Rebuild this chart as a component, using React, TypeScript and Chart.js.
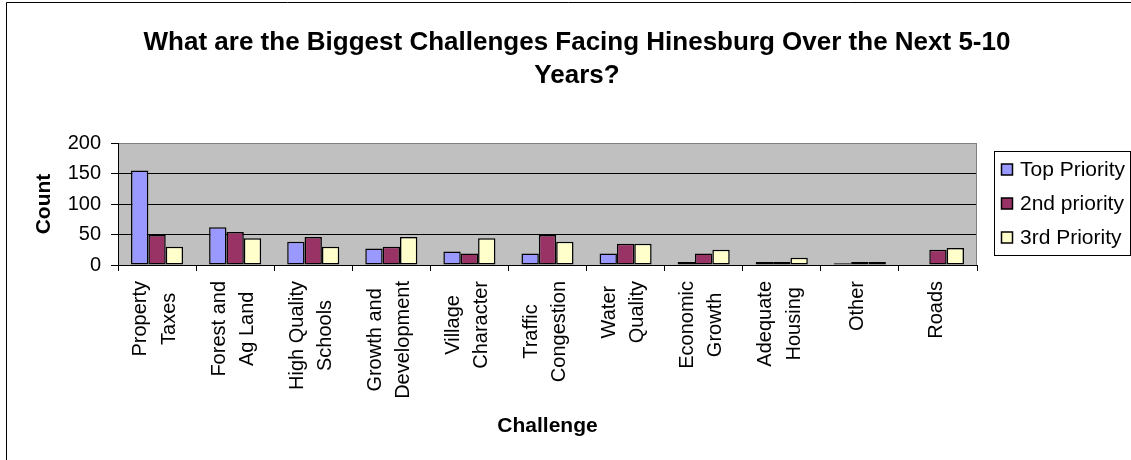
import React, { useEffect, useRef } from "react";
import { Chart, registerables } from "chart.js";

Chart.register(...registerables);

const TITLE_LINES = ["What are the Biggest Challenges Facing Hinesburg Over the Next 5-10", "Years?"];
const X_TITLE = "Challenge";
const Y_TITLE = "Count";
const CATEGORIES: string[][] = [
  ["Property", "Taxes"],
  ["Forest and", "Ag Land"],
  ["High Quality", "Schools"],
  ["Growth and", "Development"],
  ["Village", "Character"],
  ["Traffic", "Congestion"],
  ["Water", "Quality"],
  ["Economic", "Growth"],
  ["Adequate", "Housing"],
  ["Other"],
  ["Roads"],
];
const SERIES_NAMES = ["Top Priority", "2nd priority", "3rd Priority"];
const TOP_PRIORITY = [155, 62, 38, 27, 22, 19, 19, 5, 5, 3, 0];
const SECOND_PRIORITY = [49, 54, 46, 30, 19, 49, 35, 19, 5, 5, 25];
const THIRD_PRIORITY = [30, 44, 30, 46, 44, 38, 35, 25, 12, 5, 28];
const Y_MIN = 0;
const Y_MAX = 200;
const Y_STEP = 50;
const COLORS = ["#9999FF", "#993366", "#FFFFCC"];

const FONT = "'Liberation Sans', Arial, Helvetica, sans-serif";
const W = 1131;
const H = 460;
const AREA = { left: 118, top: 143, right: 977, bottom: 265 };

const decorPlugin = {
  id: "decor",
  beforeDraw(chart: any) {
    const ctx = chart.ctx;
    const a = chart.chartArea;
    ctx.save();
    ctx.fillStyle = "#ffffff";
    ctx.fillRect(0, 0, chart.width, chart.height);
    ctx.fillStyle = "#C0C0C0";
    ctx.fillRect(a.left, a.top, a.right - a.left, a.bottom - a.top);
    ctx.restore();
  },
  afterDraw(chart: any) {
    const ctx = chart.ctx;
    const a = chart.chartArea;
    const xs = chart.scales.x;
    ctx.save();
    // outer frame (top and left visible)
    ctx.strokeStyle = "#000";
    ctx.lineWidth = 1;
    ctx.beginPath();
    ctx.moveTo(6.5, H);
    ctx.lineTo(6.5, 2.5);
    ctx.lineTo(W, 2.5);
    ctx.stroke();

    // plot right border
    ctx.strokeStyle = "#808080";
    ctx.beginPath();
    ctx.moveTo(Math.round(a.right) - 0.5, a.top);
    ctx.lineTo(Math.round(a.right) - 0.5, a.bottom);
    ctx.stroke();

    ctx.fillStyle = "#000";
    // title
    ctx.font = `bold 26px ${FONT}`;
    ctx.textAlign = "center";
    ctx.textBaseline = "alphabetic";
    TITLE_LINES.forEach((t, i) => ctx.fillText(t, 577, 50 + i * 33));

    // y title
    ctx.save();
    ctx.font = `bold 21px ${FONT}`;
    ctx.translate(50, (a.top + a.bottom) / 2);
    ctx.rotate(-Math.PI / 2);
    ctx.textAlign = "center";
    ctx.fillText(Y_TITLE, 0, 0);
    ctx.restore();

    // x title
    ctx.font = `bold 21px ${FONT}`;
    ctx.textAlign = "center";
    ctx.fillText(X_TITLE, (a.left + a.right) / 2, 432);

    // x tick labels (rotated, centered lines)
    ctx.font = `20px ${FONT}`;
    const spacing = 28.3;
    CATEGORIES.forEach((lines, i) => {
      const cx = xs.getPixelForValue(i);
      const maxW = Math.max(...lines.map((l) => ctx.measureText(l).width));
      const cy = 281 + maxW / 2;
      const n = lines.length;
      lines.forEach((l, j) => {
        const bx = cx + 3.6 + (j - (n - 1) / 2) * spacing;
        ctx.save();
        ctx.translate(bx, cy);
        ctx.rotate(-Math.PI / 2);
        ctx.textAlign = "center";
        ctx.textBaseline = "alphabetic";
        ctx.fillText(l, 0, 0);
        ctx.restore();
      });
    });

    // legend
    ctx.strokeStyle = "#000";
    ctx.strokeRect(994.5, 151.5, 136, 104);
    ctx.font = `21px ${FONT}`;
    ctx.textAlign = "left";
    SERIES_NAMES.forEach((name, i) => {
      const base = 175.5 + i * 34;
      const cyBox = base - 6;
      ctx.fillStyle = COLORS[i];
      ctx.fillRect(1001.5, cyBox - 5.5, 11, 11);
      ctx.strokeStyle = "#000";
      ctx.lineWidth = 1.5;
      ctx.strokeRect(1001.5, cyBox - 5.5, 11, 11);
      ctx.lineWidth = 1;
      ctx.fillStyle = "#000";
      ctx.fillText(name, 1020, base);
    });
    ctx.restore();
  },
};

export default function App() {
  const ref = useRef<HTMLCanvasElement>(null);
  useEffect(() => {
    document.body.style.margin = "0";
    Chart.defaults.font.family = FONT;
    Chart.defaults.color = "#000";
    const canvas = ref.current!;
    const seriesValues = [TOP_PRIORITY, SECOND_PRIORITY, THIRD_PRIORITY];
    const chart = new Chart(canvas, {
      type: "bar",
      data: {
        labels: CATEGORIES.map((c) => c.join(" ")),
        datasets: SERIES_NAMES.map((name, i) => ({
          label: name,
          data: seriesValues[i],
          backgroundColor: COLORS[i],
          borderColor: "#000",
          borderWidth: 1.5,
          borderSkipped: false as any,
          categoryPercentage: 3 / 4.5,
          barPercentage: 1,
        })),
      },
      options: {
        responsive: false,
        animation: false,
        devicePixelRatio: 1,
        layout: { padding: { left: 0, top: AREA.top, right: W - AREA.right, bottom: 0 } },
        plugins: {
          legend: { display: false },
          title: { display: false },
          tooltip: { enabled: false },
        },
        scales: {
          x: {
            offset: true,
            grid: {
              display: true,
              drawOnChartArea: false,
              drawTicks: true,
              tickLength: 6,
              color: "#000",
              tickColor: "#000",
              offset: true,
            },
            border: { display: true, color: "#000", width: 1 },
            ticks: { display: false },
            afterFit: (s: any) => {
              s.height = H - AREA.bottom;
            },
          },
          y: {
            min: Y_MIN,
            max: Y_MAX,
            ticks: { stepSize: Y_STEP, font: { size: 20, family: FONT }, color: "#000", padding: 10 },
            grid: {
              color: (c: any) => (c.tick && c.tick.value === Y_MAX ? "#808080" : "#000"),
              tickColor: "#000",
              tickLength: 7,
              lineWidth: 1,
            },
            border: { display: true, color: "#000", width: 1 },
            afterFit: (s: any) => {
              s.width = AREA.left;
            },
          },
        },
      },
      plugins: [decorPlugin],
    } as any);
    return () => chart.destroy();
  }, []);
  return (
    <div style={{ width: W, height: H }}>
      <canvas ref={ref} width={W} height={H} style={{ display: "block" }} />
    </div>
  );
}
